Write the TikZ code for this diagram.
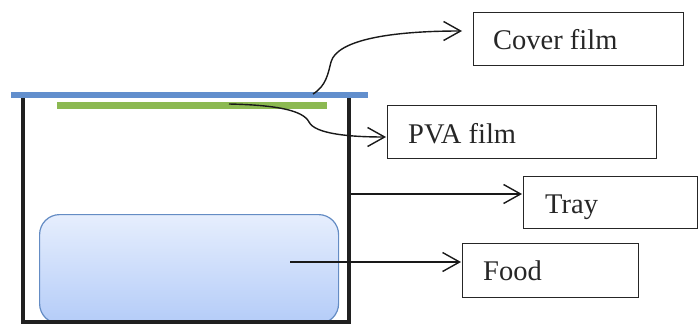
\documentclass[tikz,border=0pt]{standalone}
\usepackage{fontspec}
\setmainfont{Liberation Serif}
\usetikzlibrary{arrows.meta}
\definecolor{coverblue}{RGB}{98,143,205}
\definecolor{pvagreen}{RGB}{140,185,82}
\definecolor{foodtop}{RGB}{230,238,253}
\definecolor{foodbot}{RGB}{180,204,248}
\definecolor{foodedge}{RGB}{100,140,196}
\definecolor{wall}{RGB}{32,32,32}
\tikzset{
  labelbox/.style={draw=black!85, line width=1pt, rectangle, inner sep=0pt, anchor=north west},
  labeltext/.style={anchor=base west, inner sep=0pt, font=\fontsize{28.5}{34}\selectfont, text=black!85},
  pointer/.style={draw=black!90, line width=1.4pt, -{Straight Barb[length=17pt,width=19pt,line width=1.4pt]}},
}
\begin{document}
\begin{tikzpicture}[x=1pt,y=-1pt]
\useasboundingbox (0,0) rectangle (699,324);
% food
\node[draw=foodedge, line width=1.2pt, rounded corners=20pt, top color=foodtop, bottom color=foodbot,
  minimum width=299pt, minimum height=109pt, anchor=north west, inner sep=0pt] (food) at (39,214) {};
% tray
\draw[wall, line width=4pt] (23,97) coordinate (tl) -- (23,322) coordinate (bl) -- (349,322) coordinate (br) -- (349,97) coordinate (tr);
% films
\node[fill=coverblue, minimum width=357pt, minimum height=5.5pt, inner sep=0pt, anchor=north west] (cover) at (11,92) {};
\node[fill=pvagreen, minimum width=270pt, minimum height=6.5pt, inner sep=0pt, anchor=north west] (pva) at (57,102) {};
% label boxes
\node[labelbox, minimum width=210pt, minimum height=53pt] (coverbox) at (473,12) {};
\node[labeltext] (covertext) at (493,49.5) {Cover film};
\node[labelbox, minimum width=269pt, minimum height=53pt] (pvabox) at (387,105) {};
\node[labeltext] (pvatext) at (408,143) {PVA film};
\node[labelbox, minimum width=174pt, minimum height=52pt] (traybox) at (523,176) {};
\node[labeltext] (traytext) at (545,213) {Tray};
\node[labelbox, minimum width=176pt, minimum height=54pt] (foodbox) at (462,243) {};
\node[labeltext] (foodtext) at (483,280) {Food};
% connector anchors
\coordinate (c0) at (313,94);
\coordinate (c1) at (462,31);
\coordinate (p0) at (229,104);
\coordinate (p1) at (386,137);
\coordinate (t0) at (351,194);
\coordinate (t1) at (522,194);
\coordinate (f0) at (290,262);
\coordinate (f1) at (461,262);
% arrows
\draw[pointer] (c0) .. controls (326,86) and (328,74) .. (331,62) .. controls (337,40) and (390,31) .. (c1);
\draw[pointer] (p0) .. controls (275,105) and (303,110) .. (309,122) .. controls (315,134) and (350,137) .. (p1);
\draw[pointer] (t0) -- (t1);
\draw[pointer] (f0) -- (f1);
\end{tikzpicture}
\end{document}
